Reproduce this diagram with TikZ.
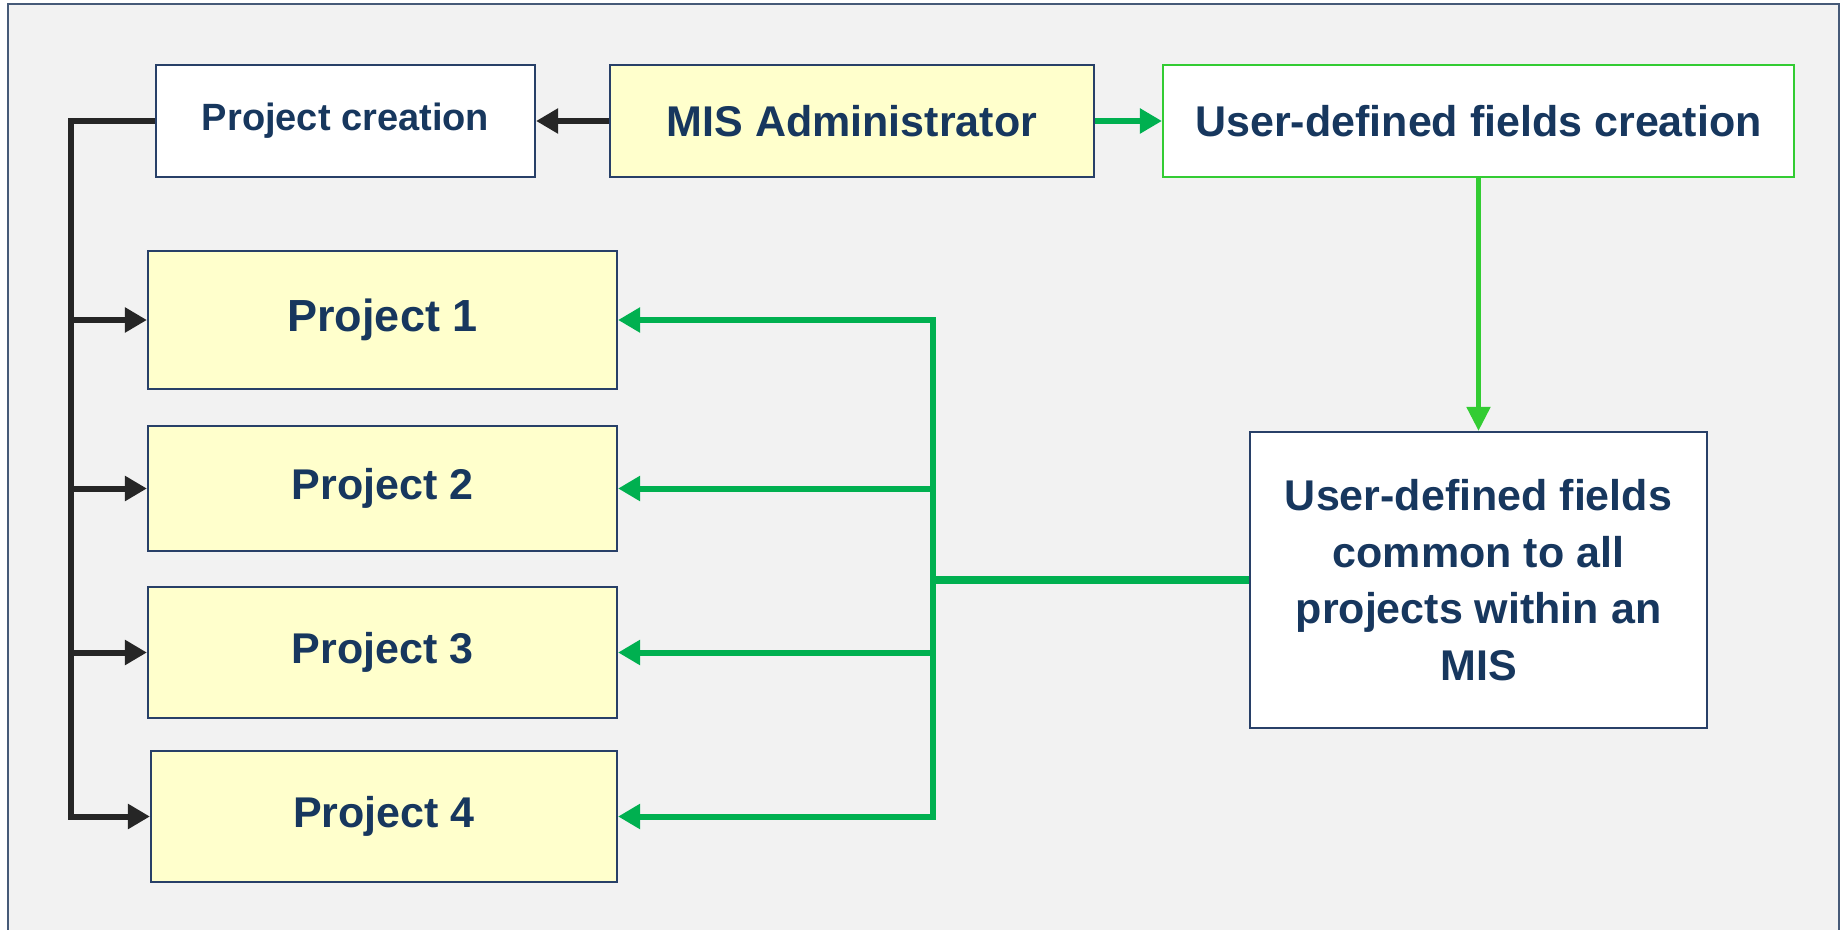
\documentclass[tikz,border=0pt]{standalone}
\usepackage{fontspec}
\setmainfont{Liberation Sans}
\usetikzlibrary{arrows.meta,calc}
\definecolor{navy}{RGB}{23,55,94}
\definecolor{boxline}{RGB}{40,64,104}
\definecolor{frameline}{RGB}{70,90,120}
\definecolor{bgc}{RGB}{242,242,242}
\definecolor{yel}{RGB}{255,255,204}
\definecolor{grn}{RGB}{0,176,80}
\definecolor{lgrn}{RGB}{51,204,51}
\definecolor{blk}{RGB}{38,38,38}
\tikzset{
  box/.style={draw=boxline, line width=1.1pt, inner sep=0pt, align=center,
    text=navy, font=\bfseries},
  ybox/.style={box, fill=yel},
  wbox/.style={box, fill=white},
  blkline/.style={draw=blk, line width=3pt, line join=miter},
  grnline/.style={draw=grn, line width=3pt, line join=miter},
  btip/.tip={Triangle[length=11pt,width=12pt]},
}
\begin{document}
\begin{tikzpicture}[x=0.5pt,y=-0.5pt]
\useasboundingbox (0,0) rectangle (1845,930);
\fill[bgc] (8,4) rectangle (1839,940);
\draw[frameline, line width=1pt] (8,940) -- (8,4) -- (1839,4) -- (1839,940);

\node[wbox, minimum width=189.5pt, minimum height=56pt, font=\bfseries\fontsize{19}{22}\selectfont] (pc) at (345.5,121) {Project creation};
\node[ybox, minimum width=242pt, minimum height=56pt, font=\bfseries\fontsize{21.5}{25}\selectfont] (mis) at (852,121) {MIS Administrator};
\node[wbox, draw=lgrn, minimum width=315.5pt, minimum height=56pt, font=\bfseries\fontsize{21.5}{25}\selectfont] (udfc) at (1478.5,121) {User-defined fields creation};

\node[ybox, minimum width=234.5pt, minimum height=69pt, font=\bfseries\fontsize{22.5}{26}\selectfont] (p1) at (382.5,320) {Project 1};
\node[ybox, minimum width=234.5pt, minimum height=62.5pt, font=\bfseries\fontsize{21.5}{25}\selectfont] (p2) at (382.5,488.5) {Project 2};
\node[ybox, minimum width=234.5pt, minimum height=65.5pt, font=\bfseries\fontsize{21.5}{25}\selectfont] (p3) at (382.5,652.5) {Project 3};
\node[ybox, minimum width=233pt, minimum height=65.5pt, font=\bfseries\fontsize{21.5}{25}\selectfont] (p4) at (384,816.5) {Project 4};

\node[wbox, minimum width=228.5pt, minimum height=148pt, font=\bfseries\fontsize{21.5}{28.3}\selectfont] (udf) at (1478.5,580) {User-defined fields\\common to all\\projects within an\\MIS};

\coordinate (bx) at (71,0);
\coordinate (gx) at (933,0);

% black connectors
\draw[blkline, -{btip}] (mis.west) -- (pc.east);
\draw[blkline, -{btip}] (pc.west) -| (bx |- p4.west) -- (p4.west);
\draw[blkline, -{btip}] (bx |- p1.west) -- (p1.west);
\draw[blkline, -{btip}] (bx |- p2.west) -- (p2.west);
\draw[blkline, -{btip}] (bx |- p3.west) -- (p3.west);

% green connectors
\draw[grnline, -{btip}] (mis.east) -- (udfc.west);
\draw[draw=lgrn, line width=2.5pt, -{Triangle[length=12pt,width=11.5pt]}] (udfc.south) -- (udf.north);
\draw[grnline, line width=3.8pt] (udf.west) -- (gx |- udf.west);
\draw[grnline, {btip}-{btip}] (p1.east) -| (gx |- p4.east) -- (p4.east);
\draw[grnline, -{btip}] (gx |- p2.east) -- (p2.east);
\draw[grnline, -{btip}] (gx |- p3.east) -- (p3.east);
\end{tikzpicture}
\end{document}
